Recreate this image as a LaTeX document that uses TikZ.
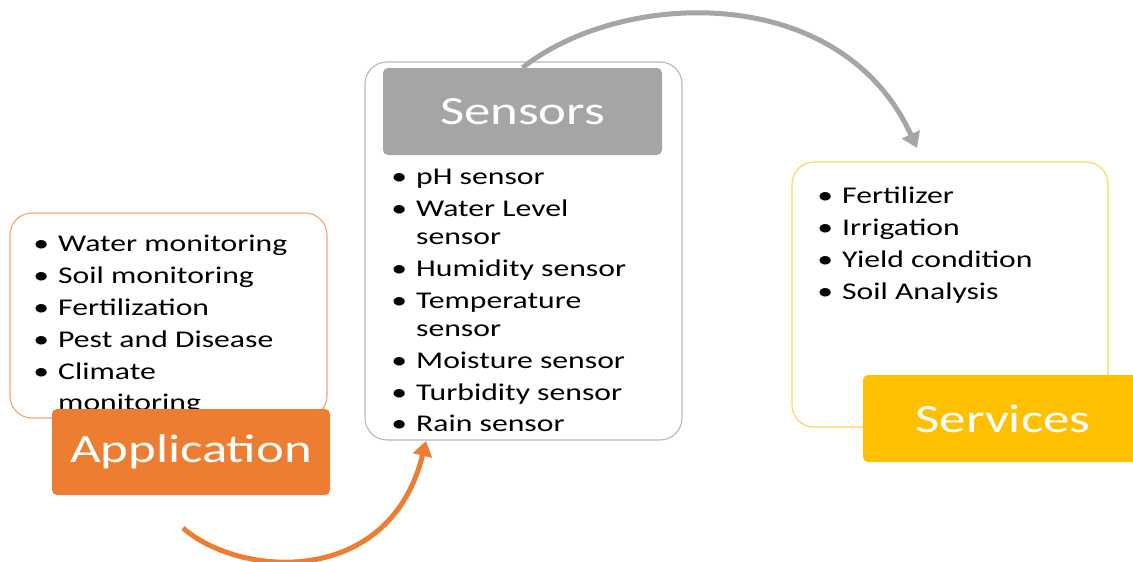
\documentclass[tikz,border=0pt]{standalone}
\usepackage{fontspec}
\setmainfont[FakeStretch=1.32]{Carlito}
\usetikzlibrary{arrows.meta}

\definecolor{appOrange}{HTML}{ED7D31}
\definecolor{appEdge}{HTML}{F2A571}
\definecolor{senGray}{HTML}{A5A5A5}
\definecolor{senEdge}{HTML}{B8B8B8}
\definecolor{srvYellow}{HTML}{FFC000}
\definecolor{srvEdge}{HTML}{FFD456}

\tikzset{
  listbox/.style={draw, line width=1.1pt, fill=white, rounded corners=22pt, inner sep=0pt},
  titlebox/.style={rounded corners=5pt, inner sep=0pt, text=white,
                   font=\fontsize{40}{48}\selectfont},
  itm/.style={anchor=base west, inner sep=0pt, font=\fontsize{24}{28}\selectfont, text=black},
  flow/.style={line width=5pt, -{Triangle[length=15pt,width=19pt]}},
}
\newcommand{\bul}{\llap{\textbullet\hspace{9pt}}}

\begin{document}
\begin{tikzpicture}[x=1pt,y=-1pt]
\useasboundingbox (0,0) rectangle (1133,562);

% connectors between the stages
\coordinate (grayEnd) at (917,148);
\coordinate (orStart) at (183,528);
\coordinate (orEnd) at (426,441);

% outer list boxes
\node[listbox, draw=appEdge, minimum width=317pt, minimum height=205pt] (appList) at (168.5,315.5) {};
\node[listbox, draw=senEdge, minimum width=317pt, minimum height=378pt] (senList) at (523.5,251) {};
\node[listbox, draw=srvEdge, minimum width=316pt, minimum height=265pt] (srvList) at (950,294.5) {};

% sensors header
\node[titlebox, fill=senGray, minimum width=279pt, minimum height=87pt] (senHead) at (522.5,111.5) {Sensors};

\draw[flow, draw=senGray] (senHead.north) .. controls (620,-10) and (840,-20) .. (grayEnd);
\draw[flow, draw=appOrange] (orStart) .. controls (240,578) and (390,588) .. (orEnd);

% application items
\node[itm] (a1) at (58,251) {\bul Water monitoring};
\node[itm] (a2) at (58,283) {\bul Soil monitoring};
\node[itm] (a3) at (58,315) {\bul Fertilization};
\node[itm] (a4) at (58,347) {\bul Pest and Disease};
\node[itm] (a5) at (58,379) {\bul Climate};
\node[itm] (a5b) at (58,410) {monitoring};

% sensor items
\node[itm] (s1) at (416,184) {\bul pH sensor};
\node[itm] (s2) at (416,216) {\bul Water Level};
\node[itm] (s2b) at (416,244) {sensor};
\node[itm] (s3) at (416,276) {\bul Humidity sensor};
\node[itm] (s4) at (416,308) {\bul Temperature};
\node[itm] (s4b) at (416,336) {sensor};
\node[itm] (s5) at (416,368) {\bul Moisture sensor};
\node[itm] (s6) at (416,400) {\bul Turbidity sensor};
\node[itm] (s7) at (416,431) {\bul Rain sensor};

% service items
\node[itm] (v1) at (842,203) {\bul Fertilizer};
\node[itm] (v2) at (842,235) {\bul Irrigation};
\node[itm] (v3) at (842,267) {\bul Yield condition};
\node[itm] (v4) at (842,299) {\bul Soil Analysis};

% stage titles on top
\node[titlebox, fill=appOrange, minimum width=278pt, minimum height=86pt] (appHead) at (191,452) {Application};
\node[titlebox, fill=srvYellow, minimum width=280pt, minimum height=87pt] (srvHead) at (1003,418.5) {Services};
\end{tikzpicture}
\end{document}
